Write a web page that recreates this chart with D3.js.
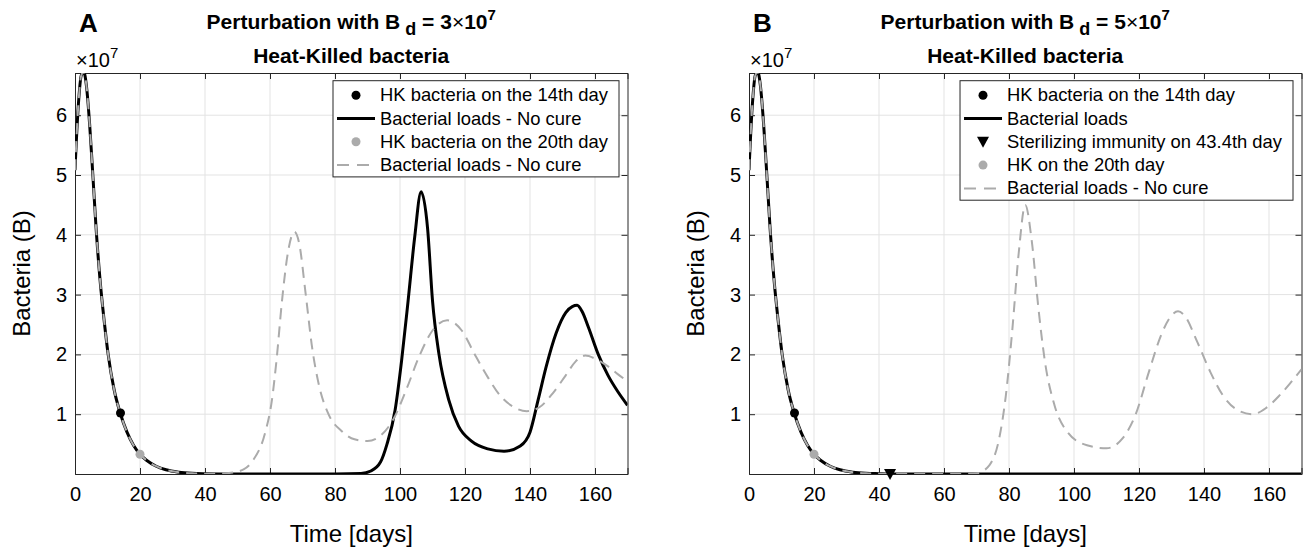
<!DOCTYPE html>
<html>
<head>
<meta charset="utf-8">
<script src="https://cdn.jsdelivr.net/npm/d3@7"></script>
<style>
  body { margin: 0; background: #fff; }
  text { font-family: "Liberation Sans", Arial, Helvetica, sans-serif; fill: #000; }
</style>
</head>
<body>
<svg id="fig" width="1304" height="550"></svg>
<script>
// bacterial loads in units of 1e7, time in days

// common start of every run (before the perturbation splits them)
const initDays  = [0, 1, 2, 2.7, 3.5, 4.5, 5.4, 6.5, 7.7, 9, 10.2, 12, 13.9, 16, 18, 20, 22, 25, 28, 32, 36, 40];
const initLoads = [5.08, 6.15, 6.68, 6.72, 6.5, 5.85, 5.08, 4.1, 3.25, 2.55, 2.0, 1.42, 1.02, 0.7, 0.48, 0.33, 0.23, 0.13, 0.07, 0.03, 0.012, 0.005];

// panel A, black: B_d = 3e7 given on day 14
const blackDaysA  = [44, 50, 60, 70, 80, 88, 91, 94, 96, 98.5, 100.5, 102.5, 104.5, 106.5, 108.5, 110, 112, 115, 118, 122, 127, 132, 137, 140, 142.5, 145, 148, 151, 153, 154.5, 156, 158, 161, 164, 167, 170];
const blackLoadsA = [0.002, 0.001, 0.001, 0.001, 0.002, 0.01, 0.05, 0.2, 0.5, 1.07, 1.9, 2.9, 3.95, 4.72, 4.1, 2.9, 2.0, 1.24, 0.8, 0.55, 0.42, 0.38, 0.47, 0.7, 1.24, 1.8, 2.35, 2.7, 2.8, 2.82, 2.72, 2.45, 2.0, 1.65, 1.38, 1.15];

// panel A, grey dashed: given on day 20
const greyDaysA  = [44, 48, 52, 54.8, 58.5, 60.6, 62, 63.7, 65.5, 67.5, 69, 71, 73, 75, 78, 82, 86, 90, 94, 98, 102, 106, 110, 114.5, 119, 123, 127, 131, 135, 139, 143, 147, 151, 154, 157, 160, 164, 167, 170];
const greyLoadsA = [0.005, 0.02, 0.08, 0.23, 0.69, 1.24, 1.9, 2.9, 3.7, 4.05, 3.85, 3.0, 2.1, 1.5, 1.0, 0.72, 0.58, 0.55, 0.64, 0.92, 1.42, 1.98, 2.4, 2.57, 2.4, 2.0, 1.62, 1.3, 1.12, 1.05, 1.12, 1.35, 1.65, 1.88, 1.98, 1.93, 1.8, 1.67, 1.55];

// panel B, black: B_d = 5e7 on day 14, cleared
const blackDaysB  = [44, 60, 100, 140, 170];
const blackLoadsB = [0, 0, 0, 0, 0];

// panel B, grey dashed: given on day 20
const greyDaysB  = [44, 55, 65, 70, 74, 77, 79, 81, 83, 85, 87, 89, 91, 94, 98, 104, 110, 115, 119, 123, 127, 130, 132, 134, 138, 142, 146, 150, 155, 159, 163, 167, 170];
const greyLoadsB = [0.004, 0.001, 0.002, 0.01, 0.15, 0.6, 1.3, 2.4, 3.7, 4.5, 3.9, 2.8, 1.9, 1.15, 0.7, 0.48, 0.43, 0.6, 1.0, 1.7, 2.35, 2.65, 2.72, 2.65, 2.2, 1.7, 1.3, 1.08, 1.0, 1.1, 1.3, 1.55, 1.75];

const xTicks = [0, 20, 40, 60, 80, 100, 120, 140, 160];
const yTicks = [1, 2, 3, 4, 5, 6];

const legendA = ["HK bacteria on the 14th day", "Bacterial loads - No cure", "HK bacteria on the 20th day", "Bacterial loads - No cure"];
const legendB = ["HK bacteria on the 14th day", "Bacterial loads", "Sterilizing immunity on 43.4th day", "HK on the 20th day", "Bacterial loads - No cure"];

const greyC = "#ababab";
const axisC = "#262626";
const gridC = "#e3e3e3";

const svg = d3.select("#fig");

function toPoints(days, loads) {
    return days.map((d, i) => [d, loads[i]]);
}

function drawPanel(p) {
    const x = d3.scaleLinear().domain([0, 170]).range([p.left, p.left + 552.5]);
    const y = d3.scaleLinear().domain([0, 6.706]).range([474, 73]);
    const g = svg.append("g");

    // grid
    g.append("g").selectAll("line").data(xTicks.slice(1)).enter().append("line")
        .attr("x1", d => x(d)).attr("x2", d => x(d))
        .attr("y1", y(0)).attr("y2", y(6.706))
        .attr("stroke", gridC).attr("stroke-width", 1);
    g.append("g").selectAll("line").data(yTicks).enter().append("line")
        .attr("x1", x(0)).attr("x2", x(170))
        .attr("y1", d => y(d)).attr("y2", d => y(d))
        .attr("stroke", gridC).attr("stroke-width", 1);

    // axes (ticks inside, box on)
    const xAxis = d3.axisBottom(x).tickValues(xTicks).tickSize(-6).tickPadding(13).tickFormat(d3.format("d"));
    const yAxis = d3.axisLeft(y).tickValues(yTicks).tickSize(-6).tickPadding(8).tickFormat(d3.format("d"));
    g.append("g").attr("transform", `translate(0,${y(0)})`).call(xAxis);
    g.append("g").attr("transform", `translate(${x(0)},0)`).call(yAxis);
    g.append("g").attr("transform", `translate(0,${y(6.706)})`)
        .call(d3.axisTop(x).tickValues(xTicks).tickSize(-6).tickFormat(""));
    g.append("g").attr("transform", `translate(${x(170)},0)`)
        .call(d3.axisRight(y).tickValues(yTicks).tickSize(-6).tickFormat(""));
    g.selectAll(".domain").attr("stroke", axisC);
    g.selectAll(".tick line").attr("stroke", axisC);
    g.selectAll(".tick text").attr("font-size", "20px").attr("fill", axisC)
        .style("font-family", "'Liberation Sans', Arial, sans-serif");

    // exponent label
    const ex = g.append("text").attr("x", x(0) + 1).attr("y", 67).attr("font-size", "20px").attr("fill", axisC);
    ex.append("tspan").text("\u00d710");
    ex.append("tspan").attr("dy", -9).attr("font-size", "15px").text("7");

    // clip
    const clipId = "clip" + p.tag;
    svg.append("clipPath").attr("id", clipId).append("rect")
        .attr("x", x(0)).attr("y", y(6.706)).attr("width", x(170) - x(0)).attr("height", y(0) - y(6.706));

    const line = d3.line().x(d => x(d[0])).y(d => y(d[1])).curve(d3.curveMonotoneX);
    const curves = g.append("g").attr("clip-path", `url(#${clipId})`);

    const blackPts = toPoints(initDays, initLoads).concat(toPoints(p.blackDays, p.blackLoads));
    const greyPts = toPoints(initDays, initLoads).concat(toPoints(p.greyDays, p.greyLoads));

    curves.append("path").attr("d", line(blackPts))
        .attr("fill", "none").attr("stroke", "#000").attr("stroke-width", 3);
    curves.append("path").attr("d", line(greyPts))
        .attr("fill", "none").attr("stroke", greyC).attr("stroke-width", 2)
        .attr("stroke-dasharray", "11,7");

    // markers
    g.append("circle").attr("cx", x(14)).attr("cy", y(1.02)).attr("r", 4.5).attr("fill", "#000");
    g.append("circle").attr("cx", x(20)).attr("cy", y(0.33)).attr("r", 4.5).attr("fill", greyC);
    if (p.triangle) {
        const tx = x(43.4), ty = y(0);
        g.append("path").attr("d", `M${tx - 6},${ty - 5}L${tx + 6},${ty - 5}L${tx},${ty + 6}Z`).attr("fill", "#000");
    }

    // axis labels
    g.append("text").attr("x", (x(0) + x(170)) / 2).attr("y", 542)
        .attr("text-anchor", "middle").attr("font-size", "24px").text("Time [days]");
    g.append("text").attr("transform", `translate(${x(0) - 45},${(y(0) + y(6.706)) / 2}) rotate(-90)`)
        .attr("text-anchor", "middle").attr("font-size", "24px").text("Bacteria (B)");

    // titles
    const cx = (x(0) + x(170)) / 2;
    const t1 = g.append("text").attr("x", cx).attr("y", 29).attr("text-anchor", "middle")
        .attr("font-size", "21px").attr("font-weight", "bold");
    t1.append("tspan").text("Perturbation with B");
    t1.append("tspan").attr("dy", 6).attr("font-size", "18px").text(" d");
    t1.append("tspan").attr("dy", -6).text(" = " + p.dose);
    t1.append("tspan").attr("font-weight", "normal").text("\u00d7");
    t1.append("tspan").text("10");
    t1.append("tspan").attr("dy", -9).attr("font-size", "15px").text("7");
    g.append("text").attr("x", cx).attr("y", 63).attr("text-anchor", "middle")
        .attr("font-size", "21px").attr("font-weight", "bold").text("Heat-Killed bacteria");
    g.append("text").attr("x", x(0) + 4).attr("y", 32)
        .attr("font-size", "26px").attr("font-weight", "bold").text(p.tag);

    // legend, right-aligned to the plot box
    const lg = g.append("g");
    const rowH = 23.3, top = 80.7;
    const texts = p.legend.map((s, i) => lg.append("text").attr("y", top + 14.5 + i * rowH + 6)
        .attr("font-size", "18.4px").text(s));
    const rowsW = d3.max(texts, t => t.node().getComputedTextLength());
    const boxR = x(170) - 8.5;
    const boxL = boxR - 11 - rowsW - 47;
    texts.forEach(t => t.attr("x", boxL + 47));
    lg.insert("rect", "text").attr("x", boxL).attr("y", top)
        .attr("width", boxR - boxL).attr("height", p.legend.length * rowH + 3)
        .attr("fill", "#fff").attr("stroke", axisC).attr("stroke-width", 1);
    const sx = boxL + 23;
    p.symbols.forEach((s, i) => {
        const cy = top + 14.5 + i * rowH;
        if (s === "dot") lg.append("circle").attr("cx", sx).attr("cy", cy).attr("r", 4.5).attr("fill", "#000");
        if (s === "gdot") lg.append("circle").attr("cx", sx).attr("cy", cy).attr("r", 4.5).attr("fill", greyC);
        if (s === "line") lg.append("line").attr("x1", sx - 19).attr("x2", sx + 19).attr("y1", cy).attr("y2", cy)
            .attr("stroke", "#000").attr("stroke-width", 3);
        if (s === "dash") lg.append("line").attr("x1", sx - 19).attr("x2", sx + 19).attr("y1", cy).attr("y2", cy)
            .attr("stroke", greyC).attr("stroke-width", 2).attr("stroke-dasharray", "12,8");
        if (s === "tri") lg.append("path").attr("d", `M${sx - 6},${cy - 5}L${sx + 6},${cy - 5}L${sx},${cy + 6}Z`).attr("fill", "#000");
    });
}

drawPanel({tag: "A", left: 75, dose: "3", blackDays: blackDaysA, blackLoads: blackLoadsA,
    greyDays: greyDaysA, greyLoads: greyLoadsA, legend: legendA,
    symbols: ["dot", "line", "gdot", "dash"], triangle: false});
drawPanel({tag: "B", left: 749, dose: "5", blackDays: blackDaysB, blackLoads: blackLoadsB,
    greyDays: greyDaysB, greyLoads: greyLoadsB, legend: legendB,
    symbols: ["dot", "line", "tri", "gdot", "dash"], triangle: true});
</script>
</body>
</html>
